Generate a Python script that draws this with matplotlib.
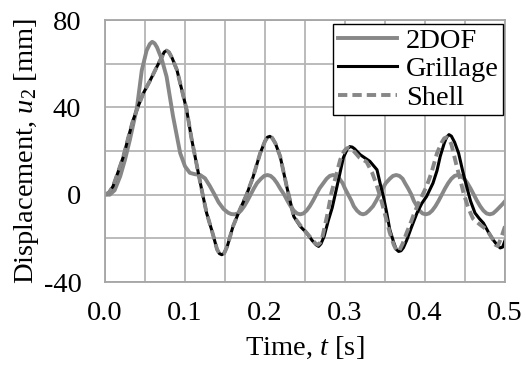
import numpy as np
import matplotlib.pyplot as plt
from matplotlib.ticker import MultipleLocator, FormatStrFormatter

# data
t_2dof = [0.000, 0.006, 0.012, 0.019, 0.025, 0.031, 0.040, 0.046, 0.052, 0.056,
          0.059, 0.062, 0.065, 0.071, 0.077, 0.085, 0.094, 0.100, 0.106, 0.112,
          0.119, 0.125, 0.131, 0.137, 0.142, 0.148, 0.154, 0.158, 0.162, 0.166,
          0.170, 0.174, 0.178, 0.182, 0.186, 0.190, 0.195, 0.199, 0.203, 0.207,
          0.211, 0.215, 0.219, 0.224, 0.228, 0.232, 0.236, 0.240, 0.244, 0.248,
          0.252, 0.256, 0.260, 0.264, 0.268, 0.273, 0.277, 0.281, 0.285, 0.289,
          0.293, 0.297, 0.300, 0.304, 0.308, 0.311, 0.315, 0.319, 0.3225, 0.326,
          0.330, 0.335, 0.339, 0.343, 0.347, 0.351, 0.356, 0.360, 0.364, 0.368,
          0.372, 0.375, 0.379, 0.383, 0.386, 0.390, 0.393, 0.397, 0.401, 0.405,
          0.409, 0.413, 0.417, 0.421, 0.425, 0.429, 0.433, 0.437, 0.441, 0.445,
          0.449, 0.453, 0.457, 0.461, 0.465, 0.469, 0.473, 0.477, 0.481, 0.485,
          0.489, 0.493, 0.497, 0.500]
u_2dof = [0, 0, 2, 8.4, 16, 25, 40, 57, 66, 69,
          70, 69.3, 67.5, 62, 54, 36, 19, 13, 10, 9.4,
          9, 7.5, 4, 0, -3.5, -6.5, -8.3, -8.9, -9, -8.6,
          -7.3, -5.3, -2.8, 0, 2.8, 5.3, 7.3, 8.6, 9, 8.6,
          7.3, 5.3, 2.8, 0, -2.8, -5.3, -7.3, -8.6, -9, -8.6,
          -7.3, -5.3, -2.8, 0, 2.8, 5.3, 7.3, 8.6, 9, 8.6,
          7.3, 5.3, 2.8, 0, -2.8, -5.3, -7.3, -8.6, -9, -8.6,
          -7.3, -5.3, -2.8, 0, 2.8, 5.3, 7.3, 8.6, 9, 8.6,
          7.3, 5.3, 2.8, 0, -2.8, -5.3, -7.3, -8.6, -9, -8.6,
          -7.3, -5.3, -2.8, 0, 2.8, 5.3, 7.3, 8.6, 9, 8.6,
          7.3, 5.3, 2.8, 0, -2.8, -5.3, -7.3, -8.6, -9, -8.6,
          -7.3, -5.8, -4.3, -3]

t_grill = [0.000, 0.005, 0.010, 0.016, 0.023, 0.029, 0.035, 0.041, 0.048, 0.056,
           0.065, 0.071, 0.074, 0.077, 0.080, 0.084, 0.090, 0.096, 0.102, 0.108,
           0.115, 0.121, 0.127, 0.134, 0.140, 0.143, 0.146, 0.149, 0.153, 0.160,
           0.169, 0.177, 0.185, 0.194, 0.200, 0.203, 0.206, 0.209, 0.213, 0.219,
           0.227, 0.236, 0.244, 0.252, 0.259, 0.264, 0.267, 0.270, 0.274, 0.279,
           0.284, 0.290, 0.298, 0.303, 0.306, 0.309, 0.312, 0.319, 0.331, 0.340,
           0.344, 0.348, 0.352, 0.356, 0.361, 0.364, 0.367, 0.370, 0.373, 0.377,
           0.383, 0.390, 0.396, 0.402, 0.410, 0.415, 0.419, 0.424, 0.427, 0.430,
           0.433, 0.437, 0.442, 0.447, 0.452, 0.457, 0.4625, 0.468, 0.473, 0.479,
           0.485, 0.490, 0.494, 0.497, 0.500]
u_grill = [0, 1, 3.8, 10, 17.5, 26, 34, 40, 46.5, 52,
           58.7, 63, 65.3, 66, 65.2, 62.5, 57, 48, 39, 26,
           13, 2, -8.4, -17, -25, -27, -27.5, -26.8, -23.5, -14.5,
           -6.5, 0, 8, 19, 24.5, 26.3, 26.7, 26, 23.5, 17.5,
           4, -10, -14.5, -17.5, -21, -23, -23.7, -22.5, -19, -12,
           -6, 3.8, 17, 21, 22, 21.8, 21, 18.3, 15.3, 11.4,
           5, -0.8, -8, -16, -22, -25, -26, -25.7, -24.3, -21,
           -15, -8.4, -4, -0.8, 5.3, 11, 17.5, 23.5, 26.3, 27.5,
           26.8, 24, 19, 11, 3.8, -3, -8.4, -11, -13, -17,
           -20.6, -23, -24.4, -24, -21]

t_shell = [0.000, 0.005, 0.010, 0.016, 0.023, 0.029, 0.035, 0.041, 0.048, 0.056,
           0.065, 0.071, 0.074, 0.077, 0.080, 0.084, 0.090, 0.096, 0.102, 0.108,
           0.115, 0.121, 0.127, 0.134, 0.140, 0.143, 0.146, 0.149, 0.153, 0.160,
           0.169, 0.177, 0.185, 0.194, 0.200, 0.203, 0.206, 0.209, 0.213, 0.219,
           0.227, 0.236, 0.244, 0.252, 0.259, 0.263, 0.266, 0.269, 0.272, 0.278,
           0.283, 0.289, 0.294, 0.299, 0.302, 0.305, 0.308, 0.312, 0.318, 0.327,
           0.334, 0.339, 0.344, 0.350, 0.356, 0.361, 0.365, 0.368, 0.372, 0.377,
           0.383, 0.386, 0.393, 0.402, 0.408, 0.415, 0.421, 0.424, 0.427, 0.430,
           0.433, 0.439, 0.444, 0.448, 0.454, 0.460, 0.468, 0.477, 0.484, 0.488,
           0.491, 0.495, 0.500]
u_shell = [0, 1, 3.8, 10, 17.5, 26, 34, 40, 46.5, 52,
           58.7, 63, 65.3, 66, 65.2, 62.5, 57, 48, 39, 26,
           13, 2, -8.4, -17, -25, -27, -27.5, -26.8, -23.5, -14.5,
           -6.5, 0, 8, 19, 24.5, 26.3, 26.7, 26, 23.5, 17.5,
           4, -10, -14, -17.5, -20.5, -22.3, -23, -22, -19, -9,
           0.8, 9, 16, 20, 21.2, 21.4, 21, 19.5, 17, 15,
           10, 5, -0.8, -9, -17.5, -23, -26, -25.5, -22.5, -17.5,
           -12, -9, -3, 3.8, 10, 19, 24, 25.8, 26.3, 25.5,
           23, 14, 7, 1, -6, -11, -13.5, -16, -20, -23,
           -23.5, -20, -14.5]

plt.rcParams['font.family'] = 'Liberation Serif'
plt.rcParams['mathtext.fontset'] = 'custom'
plt.rcParams['mathtext.rm'] = 'Liberation Serif'
plt.rcParams['mathtext.it'] = 'Liberation Serif:italic'

fs = 20.5
fig = plt.figure(figsize=(5.26, 3.76), dpi=100)
ax = fig.add_axes([105/526, 1 - 282/376, 400/526, 262/376])

gray = '#878787'
ax.plot(t_2dof, u_2dof, color=gray, lw=2.8, label='2DOF')
ax.plot(t_grill, u_grill, color='black', lw=2.2, label='Grillage')
ax.plot(t_shell, u_shell, color=gray, lw=2.8, dashes=(2.4, 1.3), label='Shell')

ax.set_xlim(0, 0.5)
ax.set_ylim(-40, 80)
ax.xaxis.set_major_locator(MultipleLocator(0.1))
ax.xaxis.set_minor_locator(MultipleLocator(0.05))
ax.yaxis.set_major_locator(MultipleLocator(40))
ax.yaxis.set_minor_locator(MultipleLocator(20))
ax.xaxis.set_major_formatter(FormatStrFormatter('%.1f'))
ax.yaxis.set_major_formatter(FormatStrFormatter('%d'))
ax.grid(True, which='both', color='#b5b5b5', lw=1.3)
ax.set_axisbelow(True)
ax.tick_params(which='both', length=0, labelsize=fs)
ax.tick_params(axis='x', pad=14)
ax.tick_params(axis='y', pad=17)
for s in ax.spines.values():
    s.set_color('#a5a5a5')
    s.set_linewidth(1.3)

ax.set_xlabel('Time, $t$ [s]', fontsize=fs, labelpad=6)
ax.set_ylabel('Displacement, $u_2$ [mm]', fontsize=fs, labelpad=2)

# legend box placed in figure coords (top right, inside the axes)
leg = ax.legend(loc='upper right', bbox_to_anchor=(503/526, 1 - 24/376),
                bbox_transform=fig.transFigure, borderaxespad=0,
                fontsize=fs, fancybox=False, framealpha=1, edgecolor='black',
                handlelength=2.1, handletextpad=0.3, labelspacing=0.08,
                borderpad=0.15)
leg.get_frame().set_linewidth(1.0)

fig.savefig('out.png', dpi=100)
